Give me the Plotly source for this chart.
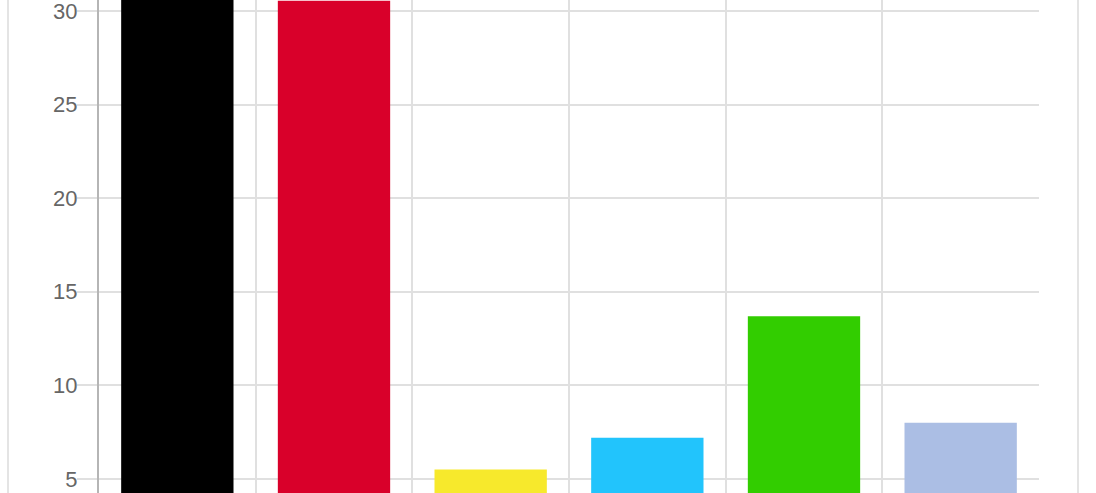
import plotly.graph_objects as go

# party results in percent (labels are cut off in the source picture)
parties = ["CDU/CSU", "SPD", "FDP", "AfD", "Grüne", "Sonstige"]
shares = [33.0, 30.55, 5.5, 7.2, 13.7, 8.0]
bar_colors = ["#000000", "#d9002a", "#f7e92c", "#22c4fc", "#32cd00", "#abbee4"]

y_ticks = [5, 10, 15, 20, 25, 30]

fig = go.Figure()
fig.add_trace(go.Bar(
    x=parties,
    y=shares,
    marker=dict(color=bar_colors, line_width=0),
    showlegend=False,
))

grid = "#e0e0e0"

fig.update_xaxes(
    type="category",
    tickson="boundaries",
    showgrid=True, gridcolor=grid, gridwidth=1.5,
    showticklabels=False, ticks="",
    showline=False, zeroline=False,
    automargin=False,
)
fig.update_yaxes(
    range=[4.25, 30.59],
    tickvals=y_ticks,
    showgrid=True, gridcolor=grid, gridwidth=1.5,
    ticks="outside", ticklen=20, tickcolor=grid, tickwidth=1.5,
    ticklabelstandoff=-5, ticklabeloverflow="allow",
    showline=True, linecolor="#b5b5b5", linewidth=2,
    zeroline=False,
    automargin=False,
    tickfont=dict(family="Liberation Sans, Arial, sans-serif", size=22, color="#666666"),
)

# faint frame lines of the surrounding card
for xp in [-0.0968, 1.0415]:
    fig.add_shape(type="line", xref="paper", yref="paper",
                  x0=xp, x1=xp, y0=-0.1, y1=1.1,
                  line=dict(color="#e4e4e4", width=2))

fig.update_layout(
    width=1096, height=493,
    margin=dict(l=99, r=57, t=0, b=0),
    bargap=0.283,
    plot_bgcolor="white", paper_bgcolor="white",
)

# drop the default 8px body margin so the figure fills the window
fig.write_html("out.html", config={"displayModeBar": False},
               post_script="document.body.style.margin = '0px';")
